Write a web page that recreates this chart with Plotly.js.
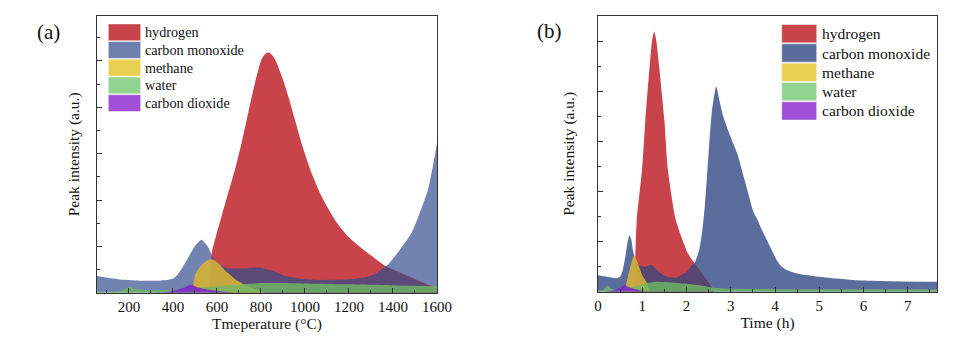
<!DOCTYPE html>
<html>
<head>
<meta charset="utf-8">
<script src="https://cdn.plot.ly/plotly-3.0.1.min.js"></script>
<style>
html,body{margin:0;padding:0;background:#fff;}
#chart{width:957px;height:340px;}
</style>
</head>
<body>
<div id="chart"></div>
<script>
// ---------- Data ----------
const seriesNames = ['hydrogen', 'carbon monoxide', 'methane', 'water', 'carbon dioxide'];

// Panel (a): temperature (°C)
const h2A_T  = [565, 576, 591, 621, 651, 682, 712, 742, 773, 803, 818, 833, 848, 863, 894, 924, 954, 984, 1030, 1075, 1136, 1196, 1257, 1318, 1371, 1438, 1529, 1582, 1600];
const h2A    = [0, 0.85, 1.14, 1.65, 2.15, 2.66, 3.23, 3.88, 4.53, 5.04, 5.14, 5.18, 5.14, 5.04, 4.68, 4.24, 3.74, 3.23, 2.58, 2.08, 1.57, 1.21, 0.96, 0.74, 0.56, 0.42, 0.24, 0.13, 0.08];
const coA_T  = [55, 150, 250, 340, 400, 420, 440, 470, 500, 530, 560, 590, 628, 651, 700, 750, 790, 848, 900, 960, 1030, 1105, 1180, 1257, 1310, 1348, 1380, 1408, 1440, 1484, 1520, 1559, 1582, 1600];
const coA    = [0.36, 0.29, 0.26, 0.26, 0.30, 0.38, 0.52, 0.76, 1.00, 1.14, 0.98, 0.68, 0.56, 0.52, 0.53, 0.53, 0.55, 0.49, 0.37, 0.31, 0.28, 0.27, 0.28, 0.31, 0.38, 0.49, 0.62, 0.78, 0.98, 1.29, 1.70, 2.22, 2.75, 3.23];
const ch4A_T = [480, 492, 500, 523, 553, 580, 610, 644, 689, 735, 780, 820];
const ch4A   = [0, 0.15, 0.38, 0.56, 0.69, 0.72, 0.62, 0.45, 0.27, 0.15, 0.07, 0];
const h2oA_T = [55, 150, 185, 205, 230, 300, 400, 450, 500, 550, 600, 700, 800, 900, 1000, 1200, 1400, 1600];
const h2oA   = [0.02, 0.03, 0.08, 0.13, 0.08, 0.06, 0.06, 0.07, 0.10, 0.12, 0.14, 0.17, 0.21, 0.21, 0.20, 0.18, 0.16, 0.14];
const co2A_T = [300, 380, 430, 460, 480, 510, 560, 620, 680];
const co2A   = [0, 0.02, 0.08, 0.13, 0.17, 0.12, 0.07, 0.03, 0];

// Panel (b): time (h)
const h2B_t  = [0.82, 0.845, 0.875, 0.995, 1.07, 1.16, 1.22, 1.27, 1.32, 1.39, 1.5, 1.58, 1.76, 2.03, 2.18, 2.35, 2.52, 2.62];
const h2B    = [0, 0.77, 1.43, 2.43, 3.43, 4.43, 5.0, 5.2, 5.0, 4.43, 3.43, 2.43, 1.43, 0.77, 0.57, 0.35, 0.17, 0];
const coB_t  = [0, 0.2, 0.41, 0.5, 0.56, 0.63, 0.67, 0.71, 0.75, 0.79, 0.85, 0.9, 1.0, 1.09, 1.2, 1.31, 1.42, 1.54, 1.76, 1.99, 2.08, 2.18, 2.29, 2.36, 2.42, 2.5, 2.57, 2.67, 2.75, 2.83, 2.95, 3.06, 3.15, 3.29, 3.4, 3.51, 3.6, 3.67, 3.78, 3.89, 3.97, 4.04, 4.13, 4.23, 4.4, 4.57, 5.1, 5.85, 6.61, 7.66];
const coB    = [0.33, 0.30, 0.27, 0.30, 0.43, 0.77, 1.0, 1.13, 1.05, 0.83, 0.62, 0.53, 0.50, 0.50, 0.55, 0.47, 0.36, 0.30, 0.27, 0.37, 0.50, 0.57, 0.85, 1.25, 1.77, 2.77, 3.57, 4.1, 3.8, 3.5, 3.2, 2.95, 2.75, 2.3, 1.95, 1.6, 1.45, 1.3, 1.1, 0.9, 0.75, 0.63, 0.52, 0.45, 0.39, 0.35, 0.29, 0.23, 0.21, 0.20];
const ch4B_t = [0.6, 0.65, 0.71, 0.78, 0.82, 0.88, 0.93, 1.0, 1.09, 1.15];
const ch4B   = [0, 0.2, 0.43, 0.65, 0.73, 0.62, 0.5, 0.33, 0.2, 0.03];
const h2oB_t = [0, 0.12, 0.22, 0.3, 0.5, 0.7, 0.9, 1.1, 1.3, 1.6, 2.0, 2.3, 2.6, 3.0, 4.0, 5.0, 7.66];
const h2oB   = [0.02, 0.04, 0.13, 0.06, 0.05, 0.08, 0.12, 0.17, 0.2, 0.19, 0.16, 0.13, 0.08, 0.06, 0.05, 0.05, 0.05];
const co2B_t = [0.2, 0.35, 0.5, 0.6, 0.7, 0.85, 1.0, 1.2];
const co2B   = [0, 0.03, 0.08, 0.13, 0.09, 0.05, 0.02, 0];

// ---------- Styles ----------
const FONT = '"Liberation Serif", "Times New Roman", serif';
const legendColors = ['#c8444a', '#6f7fae', '#e8d050', '#90d490', '#a24fd8'];
const legendColorsB = ['#c8444a', '#5a6c9c', '#e8d050', '#90d490', '#a24fd8'];
const plotColA = {h2:'#c8444a', co:'#7282b1', ov:'#5e4a78', ch4:'rgba(214,180,52,0.88)', h2o:'rgba(110,185,100,0.80)', co2:'rgba(125,40,200,0.90)'};
const plotColB = {h2:'#c8444a', co:'#5b6d9d', ov:'#574672', ch4:'rgba(214,180,52,0.88)', h2o:'rgba(110,185,100,0.80)', co2:'rgba(125,40,200,0.90)'};

// ---------- Helpers ----------
function interp(xs, ys, x) {
  if (x < xs[0] || x > xs[xs.length - 1]) return 0;
  for (let i = 1; i < xs.length; i++) {
    if (x <= xs[i]) {
      const t = (x - xs[i-1]) / (xs[i] - xs[i-1]);
      return ys[i-1] + t * (ys[i] - ys[i-1]);
    }
  }
  return ys[ys.length - 1];
}
function overlap(xa, ya, xb, yb, n) {
  const lo = Math.max(xa[0], xb[0]), hi = Math.min(xa[xa.length-1], xb[xb.length-1]);
  const xs = [], ys = [];
  for (let i = 0; i <= n; i++) {
    const x = lo + (hi - lo) * i / n;
    xs.push(x); ys.push(Math.min(interp(xa, ya, x), interp(xb, yb, x)));
  }
  return {x: xs, y: ys};
}
function area(x, y, color, xa, ya, name, smooth) {
  return {x: x, y: y, type: 'scatter', mode: 'lines', fill: 'tozeroy', fillcolor: color,
          line: {width: 0, color: color, shape: smooth ? 'spline' : 'linear', smoothing: smooth || 0},
          xaxis: xa, yaxis: ya, name: name, showlegend: false, hoverinfo: 'skip'};
}

const ovA = overlap(h2A_T, h2A, coA_T, coA, 800);
const ovB = overlap(h2B_t, h2B, coB_t, coB, 800);
const SM = 0.6;

const traces = [
  area(coA_T, coA, plotColA.co, 'x', 'y', seriesNames[1], SM),
  area(h2A_T, h2A, plotColA.h2, 'x', 'y', seriesNames[0], SM),
  area(ovA.x, ovA.y, plotColA.ov, 'x', 'y', 'overlap', 0),
  area(ch4A_T, ch4A, plotColA.ch4, 'x', 'y', seriesNames[2], SM),
  area(h2oA_T, h2oA, plotColA.h2o, 'x', 'y', seriesNames[3], SM),
  area(co2A_T, co2A, plotColA.co2, 'x', 'y', seriesNames[4], SM),

  area(coB_t, coB, plotColB.co, 'x2', 'y2', seriesNames[1], SM),
  area(h2B_t, h2B, plotColB.h2, 'x2', 'y2', seriesNames[0], SM),
  area(ovB.x, ovB.y, plotColB.ov, 'x2', 'y2', 'overlap', 0),
  area(ch4B_t, ch4B, plotColB.ch4, 'x2', 'y2', seriesNames[2], SM),
  area(h2oB_t, h2oB, plotColB.h2o, 'x2', 'y2', seriesNames[3], SM),
  area(co2B_t, co2B, plotColB.co2, 'x2', 'y2', seriesNames[4], SM)
];

const W = 957, H = 340;
const px = v => v / W, py = v => 1 - v / H;
const axCol = '#333';

function xAxis(dom, rng, dtick, mdtick, title, anchor) {
  return {domain: dom, range: rng, anchor: anchor, tick0: 0, dtick: dtick,
    ticks: 'inside', ticklen: 5, tickwidth: 1, tickcolor: axCol,
    showline: true, linecolor: axCol, linewidth: 1.3, mirror: true,
    showgrid: false, zeroline: false, fixedrange: true,
    minor: {ticks: 'inside', ticklen: 3, tickwidth: 1, tickcolor: axCol, dtick: mdtick, tick0: 0, showgrid: false},
    tickfont: {family: FONT, size: 15, color: '#111'},
    title: {text: title, font: {family: FONT, size: 15.5, color: '#111'}, standoff: 1}};
}
function yAxis(dom, rng, anchor, standoff) {
  return {domain: dom, range: rng, anchor: anchor, tick0: 0, dtick: 1,
    ticks: 'inside', ticklen: 5, tickwidth: 1, tickcolor: axCol, showticklabels: false,
    showline: true, linecolor: axCol, linewidth: 1.3, mirror: true,
    showgrid: false, zeroline: false, fixedrange: true,
    minor: {ticks: 'inside', ticklen: 3, tickwidth: 1, tickcolor: axCol, dtick: 0.5, tick0: 0, showgrid: false},
    title: {text: 'Peak intensity (a.u.)', font: {family: FONT, size: 15.5, color: '#111'}, standoff: standoff}};
}

// Manual legends (large swatches like the reference)
const shapes = [], annotations = [];
function legend(x0, x1, tx, cy0, pitch, hgt, fsize, cols) {
  seriesNames.forEach((nm, i) => {
    const cy = cy0 + i * pitch;
    shapes.push({type: 'rect', xref: 'paper', yref: 'paper', x0: px(x0), x1: px(x1),
      y0: py(cy + hgt/2), y1: py(cy - hgt/2), fillcolor: cols[i], line: {width: 0.8, color: 'rgba(255,255,255,0.6)'}, layer: 'above'});
    annotations.push({xref: 'paper', yref: 'paper', x: px(tx), y: py(cy), xanchor: 'left', yanchor: 'middle',
      text: nm, showarrow: false, font: {family: FONT, size: fsize, color: '#111'}});
  });
}
legend(108.3, 140.7, 142.5, 32.3, 17.7, 16.8, 14.2, legendColors);
legend(781.7, 816.7, 819.5, 33.7, 19.3, 18.3, 15.5, legendColorsB);

annotations.push({xref: 'paper', yref: 'paper', x: px(48), y: py(32), xanchor: 'center', yanchor: 'middle',
  text: '(a)', showarrow: false, font: {family: FONT, size: 21, color: '#111'}});
annotations.push({xref: 'paper', yref: 'paper', x: px(549), y: py(31), xanchor: 'center', yanchor: 'middle',
  text: '(b)', showarrow: false, font: {family: FONT, size: 21, color: '#111'}});

const layout = {
  width: W, height: H, margin: {l: 0, r: 0, t: 0, b: 0},
  paper_bgcolor: '#fff', plot_bgcolor: '#fff',
  font: {family: FONT, color: '#111'},
  showlegend: false,
  xaxis: xAxis([px(97), px(437)], [55, 1600], 200, 100, 'Tmeperature (°C)', 'y'),
  yaxis: yAxis([1 - 292.7/H, 1 - 16/H], [0, 5.97], 'x', 12),
  xaxis2: xAxis([px(598), px(937)], [0, 7.66], 1, 0.5, 'Time (h)', 'y2'),
  yaxis2: yAxis([1 - 291.7/H, 1 - 16/H], [0, 5.51], 'x2', 18),
  shapes: shapes,
  annotations: annotations
};

Plotly.newPlot('chart', traces, layout, {staticPlot: true, displayModeBar: false});
</script>
</body>
</html>
